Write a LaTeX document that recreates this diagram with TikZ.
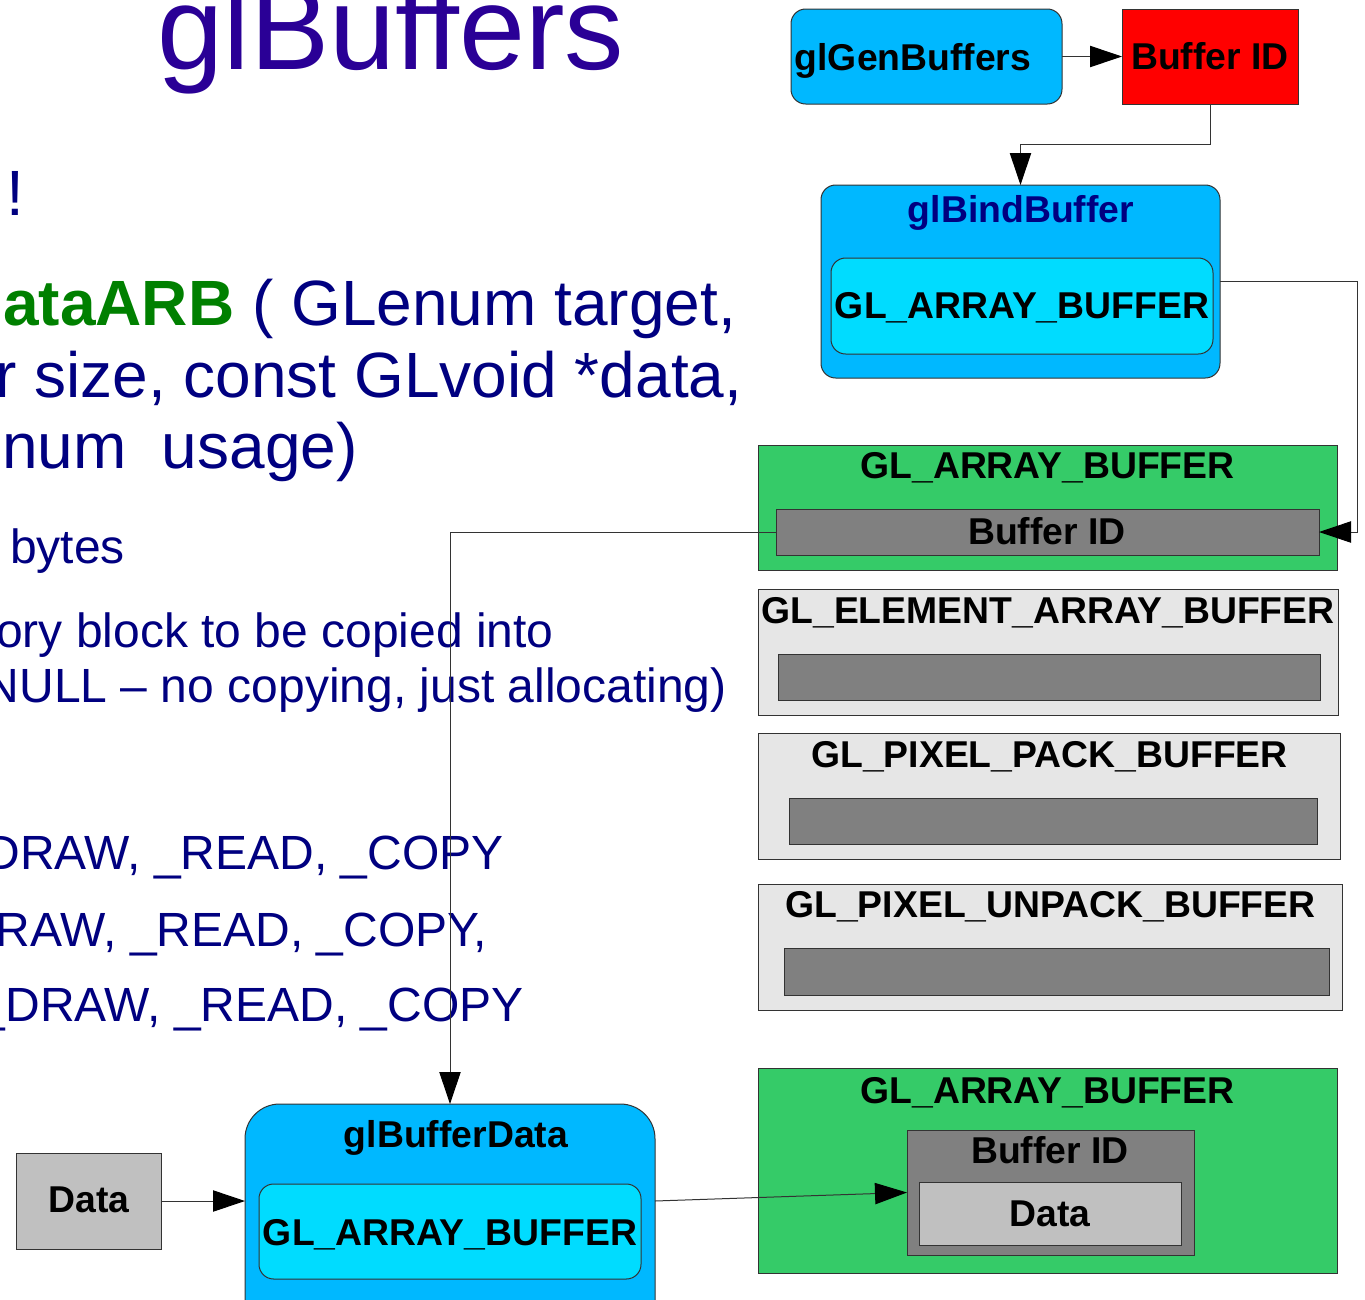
\documentclass[tikz,border=0pt]{standalone}
\usepackage{fontspec}
\setmainfont{Liberation Sans}
\usetikzlibrary{arrows.meta,fit}
\definecolor{titlec}{HTML}{2A0096}
\definecolor{navy}{HTML}{000080}
\definecolor{arbgreen}{HTML}{008000}
\definecolor{blueA}{HTML}{00B8FF}
\definecolor{blueB}{HTML}{00DCFF}
\definecolor{greenbox}{HTML}{35CB68}
\definecolor{greylight}{HTML}{E6E6E6}
\definecolor{greymid}{HTML}{808080}
\definecolor{greydata}{HTML}{C0C0C0}
\begin{document}
\begin{tikzpicture}[x=0.75pt,y=-0.75pt,
  box/.style={draw=black!80, line width=0.75pt, inner sep=0pt, outer sep=0pt},
  conn/.style={draw=black!80, line width=0.75pt, -{Triangle[length=24pt,width=16pt,color=black]}},
  lbl/.style={font=\fontsize{28}{30}\selectfont\bfseries, inner sep=0pt, anchor=base},
  big/.style={font=\fontsize{48}{50}\selectfont, text=navy, inner sep=0pt},
  mid/.style={font=\fontsize{36}{38}\selectfont, text=navy, inner sep=0pt},
]
\useasboundingbox (0,0) rectangle (1365,1300);
\clip (0,0) rectangle (1365,1300);

% ---- left text ----
\node[inner sep=0pt, anchor=base, text=titlec, font=\fontsize{89}{92}\selectfont] (title) at (391,69) {glBuffers};
\node[big, anchor=base] (excl) at (15.5,215) {!};
\node[big, anchor=base west] (l1) at (3,325) {\textcolor{arbgreen}{\bfseries ataARB} ( GLenum target,};
\node[big, anchor=base west] (l2) at (-5,397) {r size, const GLvoid *data,};
\node[big, anchor=base west] (l3) at (2,468) {num\hspace{0.55em}usage)};
\node[mid, anchor=base west] (l4) at (10,563) {bytes};
\node[mid, anchor=base east] (l5) at (554,647) {ory block to be copied into};
\node[mid, anchor=base east] (l6) at (727,702) {NULL \textendash{} no copying, just allocating)};
\node[mid, anchor=base east] (l7) at (504,869) {DRAW, \_READ, \_COPY};
\node[mid, anchor=base east] (l8) at (487,946) {RAW, \_READ, \_COPY,};
\node[mid, anchor=base east] (l9) at (524,1021) {\_DRAW, \_READ, \_COPY};

% ---- top right ----
\node[box, fill=blueA, rounded corners=11pt, fit={(791,9)(1062,104)}] (gen) {};
\node[lbl] (tgen) at (913,70) {glGenBuffers};
\node[box, fill=red, fit={(1122,9)(1298,104)}] (bid1) {};
\node[lbl] (tbid1) at (1210,69) {Buffer ID};

\node[box, fill=blueA, rounded corners=11pt, fit={(821,185)(1220,378)}] (bind) {};
\node[lbl, text=navy] (tbind) at (1021,222) {glBindBuffer};
\node[box, fill=blueB, rounded corners=11pt, fit={(831,258)(1213,354)}] (bindin) {};
\node[lbl] (tbindin) at (1022,318) {GL\_ARRAY\_BUFFER};

% ---- buffer targets ----
\node[box, fill=greenbox, fit={(758,445)(1337,570)}] (g1) {};
\node[lbl] (tg1) at (1047.5,478) {GL\_ARRAY\_BUFFER};
\node[box, fill=greymid, fit={(776,509)(1319,555)}] (bar1) {};
\node[lbl] (tbar1) at (1047,544) {Buffer ID};

\node[box, fill=greylight, fit={(758,589)(1338,715)}] (elem) {};
\node[lbl] (telem) at (1048,623) {GL\_ELEMENT\_ARRAY\_BUFFER};
\node[box, fill=greymid, fit={(778,654)(1320,700)}] (bar2) {};

\node[box, fill=greylight, fit={(758,733)(1340,859)}] (pack) {};
\node[lbl] (tpack) at (1049.5,767) {GL\_PIXEL\_PACK\_BUFFER};
\node[box, fill=greymid, fit={(789,798)(1317,844)}] (bar3) {};

\node[box, fill=greylight, fit={(758,884)(1342,1010)}] (unpack) {};
\node[lbl] (tunpack) at (1050.5,917) {GL\_PIXEL\_UNPACK\_BUFFER};
\node[box, fill=greymid, fit={(784,948)(1329,995)}] (bar4) {};

\node[box, fill=greenbox, fit={(758,1068)(1337,1273)}] (g2) {};
\node[lbl] (tg2) at (1047.5,1103) {GL\_ARRAY\_BUFFER};
\node[box, fill=greymid, fit={(907,1130)(1194,1255)}] (bid2) {};
\node[lbl] (tbid2) at (1050,1163) {Buffer ID};
\node[box, fill=greydata, fit={(919,1182)(1181,1245)}] (data2) {};
\node[lbl] (tdata2) at (1050,1226) {Data};

% ---- bottom left ----
\node[box, fill=greydata, fit={(16,1153)(161,1249)}] (data) {};
\node[lbl] (tdata) at (89,1212) {Data};
\node[box, fill=blueA, rounded corners=26pt, fit={(245,1104)(655,1340)}] (bufdata) {};
\node[lbl] (tbufdata) at (456,1147) {glBufferData};
\node[box, fill=blueB, rounded corners=11pt, fit={(259,1184)(641,1279)}] (bufin) {};
\node[lbl] (tbufin) at (450,1245) {GL\_ARRAY\_BUFFER};

% ---- connectors ----
\draw[conn] (gen) -- (bid1);
\draw[conn] (bid1.south) -- ++(0,40) -| (bind.north);
\draw[conn] (bind.east) -- ++(137,0) |- (bar1.east);
\draw[conn] (bar1.west) -| (bufdata.north);
\draw[conn] (data.east) -- (data.east -| bufdata.west);
\draw[conn] (data.east -| bufdata.east) -- (bid2.west);
\end{tikzpicture}
\end{document}
